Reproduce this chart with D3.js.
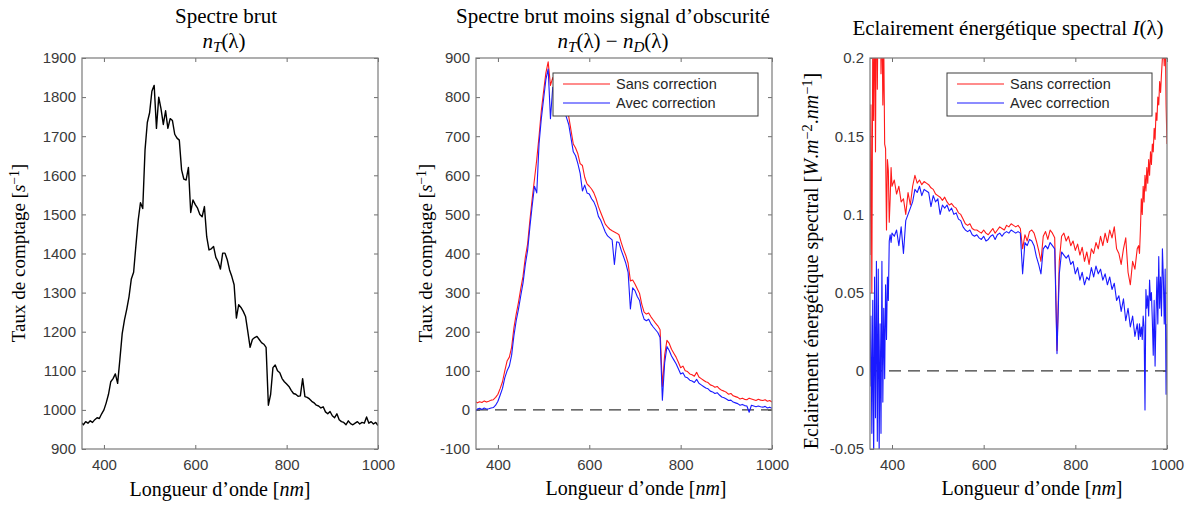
<!DOCTYPE html>
<html>
<head>
<meta charset="utf-8">
<script src="https://cdn.jsdelivr.net/npm/d3@7"></script>
<style>
  body { margin: 0; background: #fff; }
  svg { display: block; }
  .tick text { font-family: "Liberation Sans", Arial, sans-serif; font-size: 15px; fill: #3a3a3a; }
  .serif { font-family: "Liberation Serif", "Times New Roman", serif; fill: #000; }
  .legend text { font-family: "Liberation Sans", Arial, sans-serif; font-size: 14.5px; fill: #262626; }
</style>
</head>
<body>
<div id="wrapper"></div>
<script>
// grilles de longueurs d'onde (nm)
const wavelength = d3.range(350, 1001, 5);
const wavelengthIrr = [...d3.range(352, 401, 2), ...d3.range(405, 936, 5), ...d3.range(938, 1001, 2)];

// spectre brut n_T (s^-1)
const rawCounts = [
  968, 962, 970, 966, 972, 968, 975, 980, 978, 990,
  1000, 1018, 1040, 1072, 1080, 1092, 1068, 1130, 1195, 1230,
  1258, 1290, 1335, 1352, 1420, 1485, 1530, 1515, 1665, 1735,
  1760, 1815, 1830, 1720, 1800, 1770, 1730, 1765, 1720, 1745,
  1740, 1705, 1695, 1690, 1614, 1590, 1588, 1620, 1505, 1537,
  1525, 1516, 1500, 1494, 1520, 1443, 1409, 1412, 1418, 1390,
  1379, 1360, 1401, 1401, 1384, 1358, 1341, 1320, 1235, 1269,
  1262, 1252, 1239, 1200, 1160, 1180, 1185, 1188, 1180, 1172,
  1168, 1160, 1012, 1040, 1108, 1115, 1100, 1095, 1080, 1072,
  1066, 1060, 1050, 1042, 1040, 1035, 1036, 1080, 1034, 1032,
  1028, 1022, 1018, 1012, 1010, 1005, 1008, 995, 990, 996,
  985, 980, 990, 975, 970, 968, 962, 972, 965, 962,
  966, 970, 964, 968, 966, 982, 966, 970, 964, 968,
  960
];

// n_T - n_D, sans / avec correction
const sansCounts = [
  22, 18, 21, 19, 23, 20, 22, 25, 26, 32,
  40, 55, 72, 100, 125, 135, 160, 210, 245, 275,
  310, 342, 390, 425, 485, 540, 590, 640, 700, 765,
  815, 862, 890, 830, 850, 830, 810, 820, 795, 785,
  770, 750, 715, 680, 670, 655, 630, 625, 595, 578,
  572, 565, 555, 540, 520, 505, 490, 475, 468, 462,
  458, 455, 452, 448, 428, 410, 395, 375, 330, 332,
  322, 310, 298, 270, 250, 245, 248, 238, 230, 222,
  215, 205, 60, 140, 178, 170, 155, 145, 135, 122,
  108, 112, 100, 98, 92, 90, 86, 96, 84, 80,
  76, 72, 70, 64, 62, 58, 60, 54, 50, 48,
  45, 40, 42, 36, 34, 32, 28, 30, 27, 26,
  30, 28, 26, 24, 27, 25, 24, 26, 22, 24,
  20
];
const avecCounts = [
  -5, 2, 4, 1, 5, 2, 3, 5, 6, 12,
  22, 38, 55, 82, 100, 112, 140, 190, 228, 258,
  292, 325, 372, 408, 468, 522, 572, 555, 680, 745,
  795, 845, 872, 745, 825, 810, 790, 800, 775, 765,
  748, 730, 695, 660, 650, 630, 605, 560, 575, 555,
  552, 540, 532, 518, 495, 485, 470, 455, 445, 440,
  435, 372, 430, 428, 408, 392, 375, 352, 258, 312,
  305, 290, 280, 250, 232, 228, 232, 220, 212, 205,
  198, 185, 25, 120, 162, 152, 138, 128, 118, 105,
  92, 95, 84, 82, 76, 74, 70, 78, 68, 64,
  60, 56, 54, 48, 46, 42, 44, 38, 33, 31,
  28, 24, 25, 20, 18, 16, 12, 14, 11, 10,
  -6, 12, 10, 8, 10, 8, 7, 9, 5, 7,
  4
];

// eclairement I (W.m^-2.nm^-1)
const sansIrr = [
  0.074, 0.17, 0.05, 0.21, 0.16, 0.24, 0.14, 0.26, 0.18, 0.25, 0.2, 0.27, 0.19,
  0.23, 0.17, 0.21, 0.145, 0.142, 0.09, 0.135, 0.128, 0.095, 0.11, 0.13, 0.118,
  0.122, 0.113, 0.118, 0.108, 0.11, 0.1, 0.114, 0.106, 0.118, 0.125,
  0.12, 0.122, 0.119, 0.121, 0.12, 0.119, 0.117, 0.116, 0.113, 0.112,
  0.111, 0.109, 0.111, 0.108, 0.106, 0.107, 0.105, 0.104, 0.101, 0.1,
  0.097, 0.094, 0.093, 0.094, 0.091, 0.09, 0.09, 0.089, 0.088, 0.09,
  0.088, 0.087, 0.089, 0.091, 0.088, 0.09, 0.092, 0.091, 0.09, 0.093,
  0.092, 0.094, 0.093, 0.092, 0.093, 0.091, 0.078, 0.087, 0.083, 0.089,
  0.09, 0.088, 0.083, 0.077, 0.07, 0.086, 0.089, 0.084, 0.09, 0.088,
  0.085, 0.013, 0.07, 0.086, 0.088, 0.083, 0.086, 0.08, 0.083, 0.077,
  0.081, 0.074, 0.079, 0.07, 0.076, 0.068, 0.078, 0.075, 0.082, 0.078,
  0.086, 0.08, 0.088, 0.082, 0.09, 0.085, 0.092, 0.078, 0.075, 0.068,
  0.078, 0.085, 0.063, 0.055, 0.07, 0.065, 0.078,
  0.08, 0.075, 0.09, 0.11, 0.1, 0.118, 0.108, 0.125, 0.115, 0.13, 0.12, 0.135, 0.125,
  0.14, 0.132, 0.145, 0.14, 0.155, 0.148, 0.165, 0.16, 0.175, 0.17, 0.185, 0.178,
  0.19, 0.2, 0.21, 0.195, 0.22, 0.17, 0.145
];
const avecIrr = [
  -0.01, 0.035, -0.04, 0.045, -0.06, 0.06, -0.03, 0.07, -0.045, 0.065, -0.055, 0.03, -0.04,
  0.07, -0.02, 0.04, -0.005, 0.055, 0.02, 0.06, 0.045, 0.083, 0.087, 0.082, 0.088,
  0.086, 0.09, 0.08, 0.092, 0.075, 0.096, 0.1, 0.104, 0.108, 0.116,
  0.114, 0.118, 0.112, 0.116, 0.115, 0.114, 0.105, 0.112, 0.108, 0.11,
  0.1, 0.106, 0.104, 0.106, 0.102, 0.104, 0.1, 0.101, 0.097, 0.096,
  0.092, 0.09, 0.089, 0.09, 0.087, 0.086, 0.087, 0.085, 0.084, 0.086,
  0.083, 0.084, 0.086, 0.087, 0.084, 0.087, 0.088, 0.086, 0.088, 0.089,
  0.088, 0.09, 0.089, 0.088, 0.089, 0.088, 0.062, 0.082, 0.08, 0.084,
  0.083, 0.08, 0.073, 0.068, 0.062, 0.078, 0.08, 0.078, 0.082, 0.08,
  0.078, 0.011, 0.062, 0.076, 0.074, 0.072, 0.074, 0.068, 0.07, 0.062,
  0.066, 0.058, 0.063, 0.055, 0.06, 0.058, 0.066, 0.06, 0.067, 0.062,
  0.065, 0.058, 0.062, 0.055, 0.06, 0.052, 0.056, 0.045, 0.048, 0.038,
  0.046, 0.032, 0.04, 0.028, 0.035, 0.022, 0.03,
  0.02, 0.03, 0.022, 0.028, 0.02, 0.035, 0.028, -0.025, 0.052, 0.04, 0.048, 0.035, 0.058,
  0.045, 0.05, 0.032, 0.01, 0.045, 0.003, 0.035, 0.06, 0.03, 0.073, 0.04, 0.06,
  0.035, 0.078, 0.06, 0.03, 0.065, -0.015, 0.03
];

const xTicks = [400, 600, 800, 1000];
const yTicksRaw = [900, 1000, 1100, 1200, 1300, 1400, 1500, 1600, 1700, 1800, 1900];
const yTicksCounts = [-100, 0, 100, 200, 300, 400, 500, 600, 700, 800, 900];
const yTicksIrr = [-0.05, 0, 0.05, 0.1, 0.15, 0.2];
const legendLabels = ["Sans correction", "Avec correction"];

const svg = d3.select("#wrapper").append("svg")
    .attr("width", 1195)
    .attr("height", 506);

const plotTop = 58, plotBottom = 449;

function drawPanel(p, idx) {
    const w = p.right - p.left, h = plotBottom - plotTop;
    const g = svg.append("g").attr("transform", `translate(${p.left},${plotTop})`);

    const xScaler = d3.scaleLinear().domain([352, 1000]).range([0, w]);
    const yScaler = d3.scaleLinear().domain(p.yDomain).range([h, 0]);

    g.append("clipPath").attr("id", "clip" + idx)
      .append("rect").attr("width", w).attr("height", h);

    // axes avec graduations internes sur les 4 côtés
    const ax = (axis, tr, labels) => {
        const a = g.append("g").attr("transform", tr).call(axis);
        a.select(".domain").remove();
        a.selectAll(".tick line").attr("stroke", "#6e6e6e");
        if (!labels) a.selectAll(".tick text").remove();
    };
    ax(d3.axisBottom(xScaler).tickValues(xTicks).tickSize(-4).tickPadding(10).tickFormat(d => String(d)), `translate(0,${h})`, true);
    ax(d3.axisTop(xScaler).tickValues(xTicks).tickSize(-4), "translate(0,0)", false);
    ax(d3.axisLeft(yScaler).tickValues(p.yTicks).tickSize(-4).tickPadding(6).tickFormat(d => String(d)), "translate(0,0)", true);
    ax(d3.axisRight(yScaler).tickValues(p.yTicks).tickSize(-4), `translate(${w},0)`, false);

    const plot = g.append("g").attr("clip-path", `url(#clip${idx})`);

    if (p.zeroLine) {
        plot.append("line")
          .attr("x1", 0).attr("x2", w)
          .attr("y1", yScaler(0)).attr("y2", yScaler(0))
          .attr("stroke", "#3a3a3a").attr("stroke-width", 1.3)
          .attr("stroke-dasharray", "12,7");
    }

    p.series.forEach(s => {
        const lineGenerator = d3.line()
            .x((d, i) => xScaler(s.x[i]))
            .y(d => yScaler(d));
        plot.append("path")
          .attr("d", lineGenerator(s.y))
          .attr("fill", "none")
          .attr("stroke", s.color)
          .attr("stroke-width", s.width)
          .attr("stroke-linejoin", "round");
    });

    g.append("rect")
      .attr("width", w).attr("height", h)
      .attr("fill", "none").attr("stroke", "#7a7a7a").attr("stroke-width", 1.2);

    if (p.legend) {
        const lg = g.append("g").attr("class", "legend")
          .attr("transform", `translate(${p.legend.x - p.left},${p.legend.y - plotTop})`);
        lg.append("rect").attr("width", 205).attr("height", 43)
          .attr("fill", "#fff").attr("stroke", "#3c3c3c").attr("stroke-width", 1);
        p.series.forEach((s, i) => {
            lg.append("line")
              .attr("x1", 10).attr("x2", 57)
              .attr("y1", 11 + i * 19).attr("y2", 11 + i * 19)
              .attr("stroke", s.color).attr("stroke-width", 1.2);
            lg.append("text").attr("x", 63).attr("y", 16 + i * 19).text(legendLabels[i]);
        });
    }
}

drawPanel({
    left: 82, right: 378, yDomain: [900, 1900], yTicks: yTicksRaw,
    series: [{ x: wavelength, y: rawCounts, color: "#000", width: 1.4 }]
}, 1);
drawPanel({
    left: 476, right: 772, yDomain: [-100, 900], yTicks: yTicksCounts, zeroLine: true,
    legend: { x: 553, y: 73 },
    series: [
        { x: wavelength, y: sansCounts, color: "#ff1a1a", width: 1.1 },
        { x: wavelength, y: avecCounts, color: "#1a1aff", width: 1.1 }
    ]
}, 2);
drawPanel({
    left: 870, right: 1167, yDomain: [-0.05, 0.2], yTicks: yTicksIrr, zeroLine: true,
    legend: { x: 947, y: 73 },
    series: [
        { x: wavelengthIrr, y: sansIrr, color: "#ff1a1a", width: 1.1 },
        { x: wavelengthIrr, y: avecIrr, color: "#1a1aff", width: 1.1 }
    ]
}, 3);

// textes (titres, étiquettes d'axes)
function addText(x, y, size, parts, rotate) {
    const t = svg.append("text").attr("class", "serif")
      .attr("text-anchor", "middle")
      .attr("font-size", size)
      .attr("transform", `translate(${x},${y})` + (rotate ? " rotate(-90)" : ""));
    parts.forEach(pt => {
        const sp = t.append("tspan").text(pt.t);
        if (pt.i) sp.attr("font-style", "italic");
        if (pt.sub) sp.attr("baseline-shift", "-25%").attr("font-size", size * 0.72);
        if (pt.sup) sp.attr("baseline-shift", "40%").attr("font-size", size * 0.72);
    });
}

addText(226, 23, 21, [{ t: "Spectre brut" }]);
addText(224, 48, 21, [{ t: "n", i: 1 }, { t: "T", i: 1, sub: 1 }, { t: "(λ)" }]);
addText(613, 23, 21, [{ t: "Spectre brut moins signal d’obscurité" }]);
addText(613, 48, 21, [{ t: "n", i: 1 }, { t: "T", i: 1, sub: 1 }, { t: "(λ) − " }, { t: "n", i: 1 }, { t: "D", i: 1, sub: 1 }, { t: "(λ)" }]);
addText(1008, 35, 21, [{ t: "Eclairement énergétique spectral " }, { t: "I", i: 1 }, { t: "(λ)" }]);

addText(220, 496, 20, [{ t: "Longueur d’onde [" }, { t: "nm", i: 1 }, { t: "]" }]);
addText(636, 495, 20, [{ t: "Longueur d’onde [" }, { t: "nm", i: 1 }, { t: "]" }]);
addText(1032, 495, 20, [{ t: "Longueur d’onde [" }, { t: "nm", i: 1 }, { t: "]" }]);

const countLabel = [{ t: "Taux de comptage [" }, { t: "s", i: 1 }, { t: "−1", sup: 1 }, { t: "]" }];
addText(25, 253, 19, countLabel, true);
addText(432, 253, 19, countLabel, true);
addText(818, 261, 20, [{ t: "Eclairement énergétique spectral [" }, { t: "W", i: 1 }, { t: "." }, { t: "m", i: 1 }, { t: "−2", sup: 1 }, { t: "." }, { t: "nm", i: 1 }, { t: "−1", sup: 1 }, { t: "]" }], true);
</script>
</body>
</html>
